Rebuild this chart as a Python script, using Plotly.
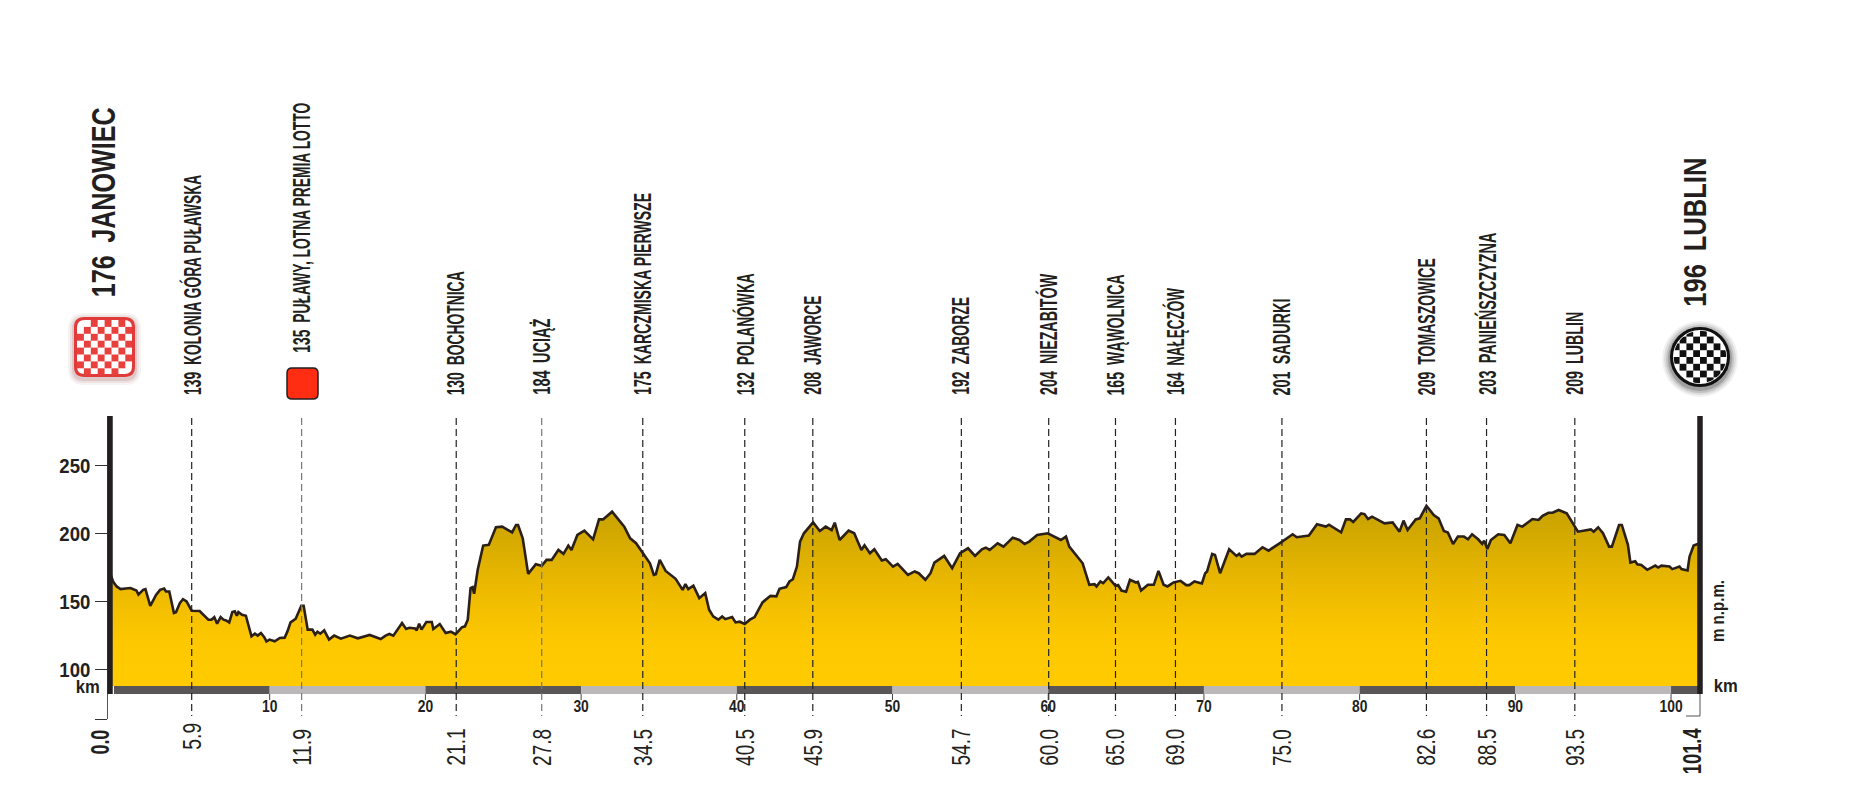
import json

import plotly.graph_objects as go

FONT = "Liberation Sans, Arial, sans-serif"
INK = "#231f20"

profile_km = [
    -0.21, -0.06, 0.17, 0.42, 0.75, 1.06, 1.44, 1.57, 1.87, 2.02, 2.33, 2.71, 2.96, 3.22, 3.34, 3.55,
    3.85, 3.98, 4.23, 4.43, 4.66, 4.99, 5.5, 5.88, 6.06, 6.26, 6.44, 6.62, 6.85, 7.03, 7.2, 7.4,
    7.6, 7.76, 7.89, 7.99, 8.22, 8.47, 8.67, 8.83, 9.05, 9.23, 9.44, 9.64, 9.79, 9.99, 10.32, 10.65,
    10.96, 11.14, 11.34, 11.67, 12.03, 12.18, 12.44, 12.74, 12.92, 13.07, 13.25, 13.5, 13.81, 14.14,
    14.57, 15.15, 15.66, 16.42, 17.13, 17.44, 17.69, 17.94, 18.5, 18.76, 18.96, 19.34, 19.44, 19.6,
    19.75, 20.06, 20.41, 20.51, 20.92, 21.3, 21.63, 21.93, 22.34, 22.54, 22.72, 22.9, 23.03, 23.13,
    23.36, 23.71, 24.07, 24.53, 24.93, 25.57, 25.82, 25.95, 26.25, 26.6, 27.09, 27.47, 27.78, 28.11,
    28.54, 28.87, 29.18, 29.38, 29.76, 30.21, 30.77, 31.15, 31.41, 31.99, 32.77, 33.15, 33.53, 34.04,
    34.42, 34.67, 34.8, 35.05, 35.43, 36.07, 36.52, 36.7, 36.88, 37.21, 37.59, 37.97, 38.22, 38.48,
    38.81, 39.06, 39.26, 39.7, 39.92, 40.18, 40.51, 40.84, 41.14, 41.65, 42.16, 42.54, 42.74, 43.17,
    43.38, 43.6, 43.86, 44.06, 44.31, 44.9, 45.33, 45.71, 46.09, 46.29, 46.6, 47.18, 47.54, 48.0,
    48.2, 48.55, 48.83, 49.31, 49.57, 50.03, 50.33, 50.99, 51.42, 51.68, 52.11, 52.44, 52.69, 53.32,
    53.83, 54.34, 54.85, 55.3, 55.74, 55.99, 56.24, 56.75, 57.13, 57.72, 58.15, 58.48, 58.78, 59.29,
    59.97, 60.81, 61.14, 61.35, 61.83, 62.21, 62.64, 62.97, 63.1, 63.35, 63.53, 63.86, 64.32, 64.49,
    64.7, 65.0, 65.25, 65.63, 65.76, 65.96, 66.4, 66.78, 67.08, 67.41, 67.66, 68.05, 68.5, 68.86,
    69.06, 69.39, 69.87, 70.08, 70.2, 70.53, 70.71, 71.04, 71.62, 72.09, 72.26, 72.42, 72.73, 73.25,
    73.76, 74.15, 74.93, 75.7, 75.96, 76.74, 77.26, 77.83, 78.03, 78.81, 79.12, 79.38, 79.59, 80.1,
    80.31, 80.54, 80.8, 81.6, 82.12, 82.56, 82.82, 83.08, 83.6, 83.86, 84.29, 84.76, 85.07, 85.41,
    85.67, 86.0, 86.31, 86.7, 86.96, 87.22, 87.61, 87.87, 88.0, 88.2, 88.43, 88.9, 89.29, 89.68,
    90.14, 90.45, 91.1, 91.49, 91.75, 92.13, 92.39, 92.78, 93.3, 94.02, 94.85, 95.03, 95.32, 95.63,
    96.02, 96.2, 96.66, 96.84, 97.23, 97.39, 97.7, 97.83, 98.09, 98.47, 98.99, 99.17, 99.38, 99.9,
    100.08, 100.54, 100.67, 101.06, 101.19, 101.45, 101.84,
]
profile_m = [
    169.5, 164.6, 161, 159, 159.5, 159.8, 158, 155, 158.5, 159, 146.8, 154.9, 158.5, 159.5, 157.3, 157.3,
    141.5, 142, 148.8, 151.7, 150, 143.2, 143, 139, 136.6, 136.6, 138.5, 133.7, 138.5, 136.6, 136, 134.6,
    142.2, 142.7, 139.5, 142.2, 140.2, 139.5, 131.7, 124.4, 126.3, 124.9, 126.8, 123.9, 120.7, 122, 120.7, 123.2,
    123.4, 128, 134.6, 137.3, 146.8, 146.8, 129.3, 129.3, 125.6, 127.8, 126.3, 128.8, 122, 124.9,
    122.7, 124.9, 122.9, 125.4, 122.4, 124.9, 126.1, 124.9, 134.1, 129.8, 130.7, 130.2, 128.8, 133.7,
    129.3, 134.9, 134.9, 129.8, 133.4, 126.8, 127.8, 125.9, 131, 131.7, 136.6, 159.8, 160.5, 155.6,
    173.2, 191, 191.5, 204.4, 204.9, 200.7, 206.1, 206.1, 196.3, 170.2, 177.3, 176.1, 180.5, 180.5,
    187.8, 184.9, 191, 187.8, 198.8, 202, 195.6, 210.2, 210.2, 215.9, 204.9, 196.3, 192.7, 184.1,
    178, 169.5, 170, 180.5, 172.4, 166.6, 158.5, 162.7, 159, 161.5, 152.4, 156.1, 143.9, 139,
    136.6, 139, 137, 138.5, 134.6, 135.1, 133.4, 136.6, 138.5, 149.3, 154.1, 153.7, 159.3, 160.5,
    164.6, 166.3, 175.6, 193.9, 200, 208, 201.7, 204.9, 202.4, 207.8, 195.1, 202, 200, 187.8,
    191.2, 185.4, 188.3, 180, 181, 175.6, 177.6, 169.5, 172, 170.7, 165.9, 170.7, 178.5, 183.4,
    174.4, 185.4, 189, 183.4, 188.3, 189.5, 187.8, 192.7, 190.2, 196.8, 195.1, 192.2, 193.9, 198.8,
    200, 195.1, 197.6, 190.2, 182.9, 178, 162.2, 162.7, 161, 164.6, 163.4, 167.6, 161.5, 162,
    158, 157.1, 165.9, 163.9, 164.4, 158, 162.2, 162.2, 172.4, 162.2, 161, 163.9, 165.1, 162,
    162, 164.6, 163.2, 170.7, 172, 184.9, 184.1, 170.7, 188.3, 183.4, 184.9, 182.9, 184.9, 184.9,
    189.8, 187.3, 193.2, 199.3, 197.1, 198.3, 206.6, 204.9, 206.3, 200.7, 210.2, 210.2, 208.3, 214.6,
    214.1, 210.5, 212.2, 207.3, 208, 201.2, 209.3, 202.4, 210.2, 211, 220.2, 213.4, 211, 201.7,
    200.5, 192.2, 197.6, 197.6, 195.6, 199.3, 195.6, 192.2, 194.6, 188.5, 195.1, 199.3, 198.8, 192.7,
    206.1, 204.9, 210.5, 209.8, 212.9, 215.1, 215.1, 217.1, 214.6, 201.2, 202.9, 201.2, 204.4, 200,
    190.2, 190.2, 206.1, 206.1, 191.5, 178.5, 179.5, 177.3, 176.8, 173.2, 176.3, 174.9, 176.3, 175.6,
    173.7, 175.6, 173.7, 172.7, 182.9, 191, 192.7,
]

# where the dashed markers sit on the km band, and what is printed for them
marker_pos = [4.99, 12.05, 21.98, 27.47, 33.96, 40.51, 44.88, 54.42, 60.03, 64.32, 68.17, 75.01, 84.29, 88.15, 93.82]
marker_km = ["5.9", "11.9", "21.1", "27.8", "34.5", "40.5", "45.9", "54.7", "60.0", "65.0", "69.0", "75.0", "82.6", "88.5", "93.5"]
marker_names = [
    "139\u2002KOLONIA GÓRA PUŁAWSKA", "135\u2002PUŁAWY, LOTNA PREMIA LOTTO", "130\u2002BOCHOTNICA", "184\u2002UCIĄŻ",
    "175\u2002KARCZMISKA PIERWSZE", "132\u2002POLANÓWKA", "208\u2002JAWORCE", "192\u2002ZABORZE",
    "204\u2002NIEZABITÓW", "165\u2002WĄWOLNICA", "164\u2002NAŁĘCZÓW", "201\u2002SADURKI",
    "209\u2002TOMASZOWICE", "203\u2002PANIEŃSZCZYZNA", "209\u2002LUBLIN",
]
# no narrow font is installed, so the printed lengths (px) get squeezed in afterwards
name_lengths = [220, 250, 124, 76, 202, 122, 99, 98, 121, 121, 107, 97, 137, 162, 83]
# the sprint label stands higher, above its red flag
name_bottoms = [395, 353] + [395] * 13

band_start = [0, 10, 20, 30, 40, 50, 60, 70, 80, 90, 100]
band_end = [10, 20, 30, 40, 50, 60, 70, 80, 90, 100, 101.84]
band_colors = ["#5a5556", "#bcb8b9"] * 5 + ["#5a5556"]
km_ticks = [10, 20, 30, 40, 50, 60, 70, 80, 90, 100]
elev_ticks = [100, 150, 200, 250]

X_RANGE = [-0.417, 102.02]
Y_RANGE = [63.7, 286.1]
BASE_M = 87.9
BAND_M = 82.0

fig = go.Figure()

fig.add_trace(go.Bar(
    x=[(a + b) / 2 for a, b in zip(band_start, band_end)],
    y=[BASE_M - BAND_M] * len(band_start),
    base=BAND_M,
    width=[b - a for a, b in zip(band_start, band_end)],
    marker=dict(color=band_colors, line_width=0),
))
fig.add_trace(go.Scatter(
    x=[profile_km[0], profile_km[-1]], y=[BASE_M, BASE_M],
    mode="lines", line=dict(width=0, color="rgba(0,0,0,0)"),
))
fig.add_trace(go.Scatter(
    x=profile_km, y=profile_m, mode="lines",
    line=dict(color="#2a2018", width=2.6),
    fill="tonexty",
    fillgradient=dict(
        type="vertical", start=BASE_M, stop=222,
        colorscale=[[0, "#ffcb00"], [0.25, "#fdc800"], [0.5, "#efbb00"], [1, "#c5a000"]],
    ),
))
fig.add_trace(go.Scatter(
    x=km_ticks, y=[71.8] * len(km_ticks), mode="text", text=[str(k) for k in km_ticks],
    textposition="middle center",
    textfont=dict(family=FONT, size=16, color=INK, weight=700),
))
# invisible trace so the pixel-sized overlay axes exist
fig.add_trace(go.Scatter(x=[0, 1852], y=[0, 794], xaxis="x2", yaxis="y2", mode="markers", marker_opacity=0))

shapes = []
for pos, km in zip(marker_pos, marker_km):
    grey = km in ("11.9", "27.8")
    shapes.append(dict(type="line", xref="x", yref="y2", x0=pos, x1=pos, y0=418, y1=716,
                       line=dict(color="#777777" if grey else "#222222", width=1.2, dash="7px,4px")))
for k in km_ticks:
    shapes.append(dict(type="line", xref="x", yref="y", x0=k, x1=k, y0=BAND_M, y1=77.6,
                       line=dict(color="#444444", width=1)))

# heavy posts at both ends, and the small corner at the finish
for x in (110, 1700):
    shapes.append(dict(type="line", xref="x2", yref="y2", x0=x, x1=x, y0=416, y1=694,
                       line=dict(color=INK, width=5.5)))
shapes.append(dict(type="path", xref="x2", yref="y2", path="M 1686 716 L 1700 716 L 1700 694",
                   line=dict(color="#555555", width=1)))


def rounded(x0, y0, x1, y1, r):
    return (f"M {x0 + r} {y0} L {x1 - r} {y0} Q {x1} {y0} {x1} {y0 + r} L {x1} {y1 - r} Q {x1} {y1} {x1 - r} {y1} "
            f"L {x0 + r} {y1} Q {x0} {y1} {x0} {y1 - r} L {x0} {y0 + r} Q {x0} {y0} {x0 + r} {y0} Z")


# start flag: red checker with a soft shadow
for grow, alpha in ((6, 0.05), (4, 0.08), (2, 0.12)):
    shapes.append(dict(type="path", xref="x2", yref="y2", line_width=0, fillcolor=f"rgba(120,20,20,{alpha})",
                       path=rounded(74 - grow, 317 - grow + 2, 135 + grow, 377 + grow + 2, 10 + grow)))
shapes.append(dict(type="path", xref="x2", yref="y2", fillcolor="white", line=dict(color="#e03a3a", width=3),
                   path=rounded(75.5, 318.5, 133.5, 375.5, 9)))
for i in range(8):
    for j in range(8):
        if (i + j) % 2 == 0 and (i, j) not in ((0, 0), (7, 7)):
            shapes.append(dict(type="rect", xref="x2", yref="y2", line_width=0, fillcolor="#e8403c",
                               x0=77 + i * 6.9, x1=77 + (i + 1) * 6.9, y0=320 + j * 6.9, y1=320 + (j + 1) * 6.9))

# finish flag: black checker disc with a soft shadow
for grow, alpha in ((8, 0.06), (6, 0.08), (4, 0.12), (2, 0.18)):
    shapes.append(dict(type="circle", xref="x2", yref="y2", line_width=0, fillcolor=f"rgba(0,0,0,{alpha})",
                       x0=1670 - grow, x1=1730 + grow, y0=327 - grow + 2, y1=387 + grow + 2))
shapes.append(dict(type="circle", xref="x2", yref="y2", fillcolor="white", line_width=0,
                   x0=1671, x1=1729, y0=328, y1=386))
for i in range(-4, 4):
    for j in range(-4, 4):
        cx, cy = (i + 0.5) * 6.8, (j + 0.5) * 6.8
        if (i + j) % 2 == 0 and cx * cx + cy * cy < 27 * 27:
            shapes.append(dict(type="rect", xref="x2", yref="y2", line_width=0, fillcolor="#111111",
                               x0=1700 + cx - 3.4, x1=1700 + cx + 3.4, y0=357 + cy - 3.4, y1=357 + cy + 3.4))
shapes.append(dict(type="circle", xref="x2", yref="y2", line=dict(color="white", width=1.5),
                   x0=1673, x1=1727, y0=330, y1=384))
shapes.append(dict(type="circle", xref="x2", yref="y2", line=dict(color="#111111", width=3),
                   x0=1671.5, x1=1728.5, y0=328.5, y1=385.5))

# intermediate sprint flag
shapes.append(dict(type="path", xref="x2", yref="y2", fillcolor="#ff2d12", line=dict(color=INK, width=1.5),
                   path=rounded(287, 368, 318, 399, 5)))

squeeze = {}
annotations = []


def label(text, x, y, size, length=None, weight=400, angle=-90, xref="x2"):
    # y is the middle of the text, the squeeze keeps that point fixed
    if length:
        squeeze[text] = length
    annotations.append(dict(x=x, y=y, xref=xref, yref="y2", text=text, showarrow=False, textangle=angle,
                            xanchor="center", yanchor="middle",
                            font=dict(family=FONT, size=size, color=INK, weight=weight)))


for pos, km, name, length, bottom in zip(marker_pos, marker_km, marker_names, name_lengths, name_bottoms):
    label(name, pos, bottom - length / 2, 23, length, 700, xref="x")
    if len(km) == 3:
        label(km, pos, 736, 25, 27, xref="x")
    else:
        label(km, pos, 747, 25, 37, xref="x")

label("0.0", 99, 742.5, 25, 25, 700)
label("101.4", 1691.6, 751, 25, 46, 700)
label("176\u2002JANOWIEC", 103, 203, 33, 190, 700)
label("196\u2002LUBLIN", 1694, 232.5, 32, 149, 700)
label("km", 87, 686, 19, 24, 700, angle=0)
label("km", 1725, 685, 19, 24, 700, angle=0)
label("m n.p.m.", 1718, 611, 18, 62, 700)

fig.update_layout(
    width=1852, height=794,
    margin=dict(l=0, r=0, t=0, b=0),
    paper_bgcolor="white", plot_bgcolor="rgba(0,0,0,0)",
    showlegend=False, hovermode=False,
    shapes=shapes, annotations=annotations,
    xaxis=dict(domain=[107.5 / 1852, 1702.5 / 1852], range=X_RANGE, visible=False),
    yaxis=dict(
        domain=[(794 - 719) / 794, (794 - 416) / 794], range=Y_RANGE,
        tickmode="array", tickvals=[Y_RANGE[0]] + elev_ticks, ticktext=[""] + [str(v) for v in elev_ticks],
        ticks="outside", ticklen=12, tickcolor="#333333", tickwidth=1,
        showline=True, linecolor="#555555", linewidth=1, showgrid=False, zeroline=False,
        tickfont=dict(family=FONT, size=21, color=INK, weight=700),
    ),
    xaxis2=dict(domain=[0, 1], range=[0, 1852], visible=False, anchor="y2"),
    yaxis2=dict(domain=[0, 1], range=[794, 0], visible=False, anchor="x2"),
)

post = """
document.body.style.margin = '0';
document.body.style.overflow = 'hidden';
var squeeze = %s;
function fit(t, len) {
  if (len) { t.setAttribute('textLength', len); t.setAttribute('lengthAdjust', 'spacingAndGlyphs'); }
}
function squeezeText() {
  document.querySelectorAll('.annotation-text').forEach(function (t) { fit(t, squeeze[t.textContent]); });
  document.querySelectorAll('.ytick text').forEach(function (t) { if (t.textContent) fit(t, 31); });
  document.querySelectorAll('.textpoint text').forEach(function (t) { fit(t, t.textContent.length * 7.7); });
}
squeezeText();
setTimeout(squeezeText, 200);
""" % json.dumps(squeeze)

fig.write_html("out.html", config=dict(displayModeBar=False), post_script=post)
